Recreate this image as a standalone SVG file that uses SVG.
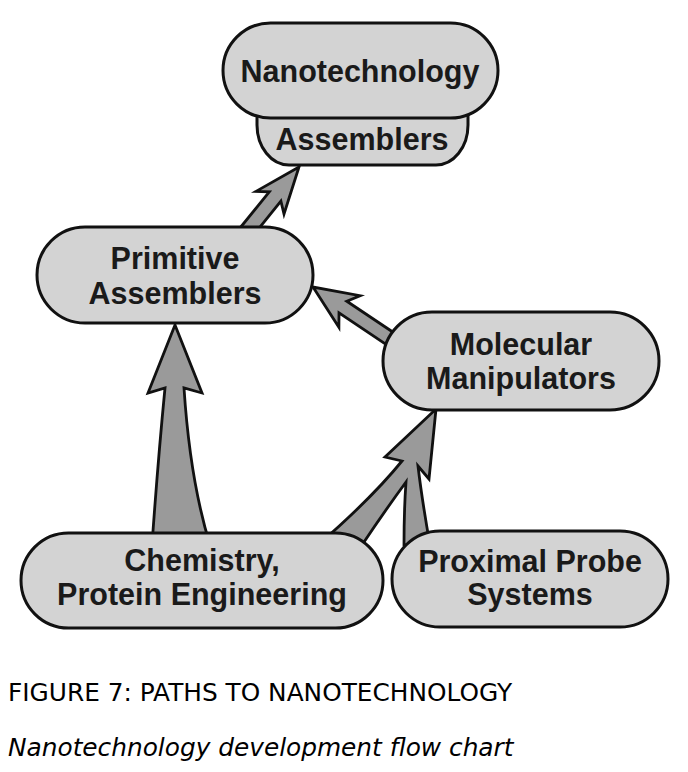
<svg xmlns="http://www.w3.org/2000/svg" width="688" height="772" viewBox="0 0 688 772">
<style>
.node{fill:#d3d3d3;stroke:#111;stroke-width:3}
.arrow{fill:#9a9a9a;stroke:#111;stroke-width:2.8;stroke-linejoin:miter}
.lbl{font-family:"Liberation Sans",Arial,sans-serif;font-weight:bold;font-size:30.5px;fill:#1a1a1a;text-anchor:middle}
.cap{font-family:"DejaVu Sans",Verdana,sans-serif;font-size:24.8px;fill:#000}
</style>
<rect width="688" height="772" fill="#fff"/>
<g id="connectors">
<path class="arrow" d="M234.3,235 L269.3,191.8 L256,191.4 L299,167 L284,214 L280.9,201.2 L253.5,235 Z"/>
<path class="arrow" d="M395,333.5 L346.8,301.2 L360.1,295.7 L313,287 L338.9,327.3 L339,312.8 L395,350.3 Z"/>
<path class="arrow" d="M152,545 Q158,460 165,388 L148,393 L175,325 L202,393 L184,388 Q190,480 210,545 Z"/>
<path class="arrow" d="M318,545 Q372,498 402,461 L385,457 L436,409 L429,479 L418,466 Q422,500 430,545 L404,545 Q404,510 406,482 Q384,512 362,545 Z"/>
</g>
<g id="n-assemblers">
<path class="node" d="M257,100 V125 A32 40 0 0 0 289,165 H436 A32 40 0 0 0 468,125 V100 Z"/>
<text class="lbl" x="362" y="150">Assemblers</text>
</g>
<g id="n-nanotech">
<rect class="node" x="223" y="23" width="275" height="95" rx="47.5"/>
<text class="lbl" x="360" y="82">Nanotechnology</text>
</g>
<g id="n-primitive">
<rect class="node" x="37" y="227" width="276" height="96" rx="48"/>
<text class="lbl" x="175" y="269">Primitive</text>
<text class="lbl" x="175" y="304">Assemblers</text>
</g>
<g id="n-molecular">
<rect class="node" x="383" y="312" width="276" height="98" rx="49"/>
<text class="lbl" x="521" y="355">Molecular</text>
<text class="lbl" x="521" y="389">Manipulators</text>
</g>
<g id="n-chemistry">
<rect class="node" x="21" y="533" width="362" height="95" rx="47.5"/>
<text class="lbl" x="202" y="571">Chemistry,</text>
<text class="lbl" x="202" y="605">Protein Engineering</text>
</g>
<g id="n-proximal">
<rect class="node" x="392" y="531" width="276" height="96" rx="48"/>
<text class="lbl" x="530" y="572">Proximal Probe</text>
<text class="lbl" x="530" y="605">Systems</text>
</g>
<text class="cap" x="8" y="701">FIGURE 7: PATHS TO NANOTECHNOLOGY</text>
<text class="cap" x="8" y="756" font-style="italic">Nanotechnology development flow chart</text>
</svg>
